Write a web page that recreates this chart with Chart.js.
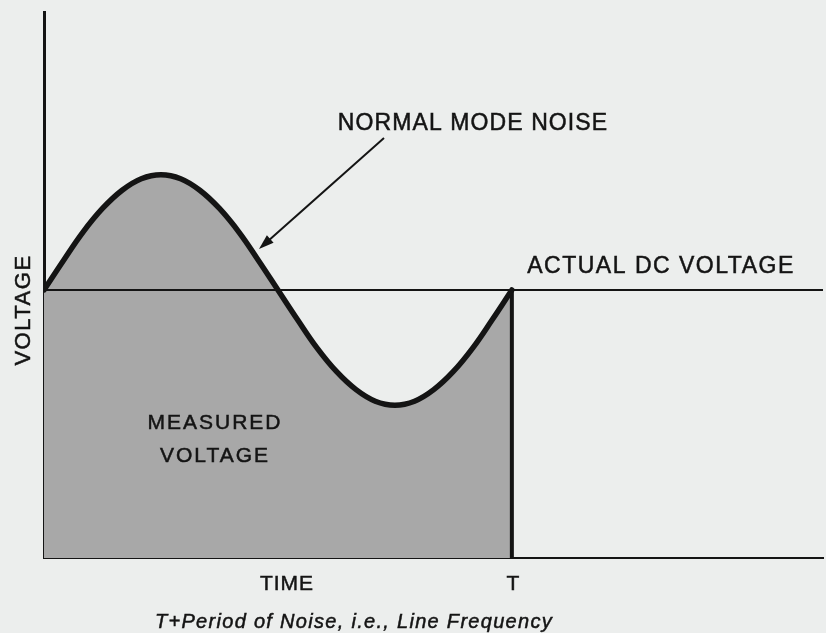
<!DOCTYPE html>
<html>
<head>
<meta charset="utf-8">
<script src="https://cdn.jsdelivr.net/npm/chart.js@4"></script>
<style>
  html, body { margin: 0; padding: 0; background: #eceeed; }
  #wrap { width: 826px; height: 633px; }
</style>
</head>
<body>
<div id="wrap"><canvas id="noiseChart" width="826" height="633"></canvas></div>
<script>
// One period of the noise, time in units of T, voltage in arbitrary units
const timePoints = [0, 0.042, 0.083, 0.125, 0.167, 0.208, 0.25, 0.292, 0.333, 0.375, 0.417, 0.458, 0.5,
  0.542, 0.583, 0.625, 0.667, 0.708, 0.75, 0.792, 0.833, 0.875, 0.917, 0.958, 1];
const noiseVoltage = [1.0, 1.111, 1.215, 1.304, 1.372, 1.415, 1.43, 1.415, 1.372, 1.304, 1.215, 1.111, 1.0,
  0.889, 0.785, 0.696, 0.628, 0.585, 0.57, 0.585, 0.628, 0.696, 0.785, 0.889, 1.0];
const dcLevel = [1.0, 1.0];
const dcTimes = [0, 1.665];
const periodMarkTimes = [1, 1];
const periodMarkVoltage = [0, 1.0];

const INK = '#141414';
const FILL = '#a8a8a8';
const FONT = '"Liberation Sans", Arial, Helvetica, sans-serif';

function toXY(xs, ys) {
  return xs.map((x, i) => ({ x, y: ys[i] }));
}

function drawText(ctx, text, x, y, size, opts = {}) {
  ctx.save();
  ctx.fillStyle = INK;
  ctx.strokeStyle = INK;
  ctx.lineWidth = 0.5;
  ctx.font = `${opts.italic ? 'italic ' : ''}${size}px ${FONT}`;
  if ('letterSpacing' in ctx) ctx.letterSpacing = (opts.spacing || 0) + 'px';
  ctx.textAlign = 'center';
  ctx.textBaseline = 'alphabetic';
  ctx.translate(x, y);
  if (opts.rotate) ctx.rotate(opts.rotate);
  ctx.fillText(text, 0, 0);
  ctx.strokeText(text, 0, 0);
  ctx.restore();
}

const annotations = {
  id: 'annotations',
  afterDraw(chart) {
    const ctx = chart.ctx;
    drawText(ctx, 'NORMAL MODE NOISE', 473, 130, 23, { spacing: 1.1 });
    drawText(ctx, 'ACTUAL DC VOLTAGE', 661, 273, 23, { spacing: 1.5 });
    drawText(ctx, 'MEASURED', 215, 429, 21, { spacing: 2 });
    drawText(ctx, 'VOLTAGE', 215, 462, 21, { spacing: 2 });
    drawText(ctx, 'TIME', 287, 590, 21, { spacing: 1 });
    drawText(ctx, 'T', 513, 590, 21);
    drawText(ctx, 'T+Period of Noise, i.e., Line Frequency', 354, 628, 20, { italic: true, spacing: 1.3 });
    drawText(ctx, 'VOLTAGE', 30, 310, 22, { spacing: 1.5, rotate: -Math.PI / 2 });

    // arrow pointing at the noise curve
    const x0 = 384, y0 = 138, x1 = 259, y1 = 249;
    const ang = Math.atan2(y1 - y0, x1 - x0);
    ctx.save();
    ctx.strokeStyle = INK;
    ctx.fillStyle = INK;
    ctx.lineWidth = 2;
    ctx.beginPath();
    ctx.moveTo(x0, y0);
    ctx.lineTo(x1 - 8 * Math.cos(ang), y1 - 8 * Math.sin(ang));
    ctx.stroke();
    ctx.beginPath();
    ctx.moveTo(x1, y1);
    ctx.lineTo(x1 - 15 * Math.cos(ang) + 5 * Math.sin(ang), y1 - 15 * Math.sin(ang) - 5 * Math.cos(ang));
    ctx.lineTo(x1 - 15 * Math.cos(ang) - 5 * Math.sin(ang), y1 - 15 * Math.sin(ang) + 5 * Math.cos(ang));
    ctx.closePath();
    ctx.fill();
    ctx.restore();
  }
};

const noAxisSize = (horizontal) => (scale) => {
  if (horizontal) scale.height = 0; else scale.width = 0;
};

new Chart(document.getElementById('noiseChart'), {
  type: 'line',
  data: {
    datasets: [
      {
        label: 'Actual DC voltage',
        data: toXY(dcTimes, dcLevel),
        borderColor: INK,
        borderWidth: 2,
        pointRadius: 0,
        fill: false,
      },
      {
        label: 'T',
        data: toXY(periodMarkTimes, periodMarkVoltage),
        borderColor: INK,
        borderWidth: 4,
        pointRadius: 0,
        fill: false,
      },
      {
        label: 'Normal mode noise',
        data: toXY(timePoints, noiseVoltage),
        borderColor: INK,
        borderWidth: 5.5,
        backgroundColor: FILL,
        pointRadius: 0,
        tension: 0.4,
        borderCapStyle: 'round',
        fill: 'origin',
      }
    ]
  },
  options: {
    responsive: false,
    animation: false,
    layout: { padding: { left: 44, top: 12, right: 3, bottom: 75 } },
    plugins: {
      legend: { display: false },
      tooltip: { enabled: false },
    },
    scales: {
      x: {
        type: 'linear',
        min: 0,
        max: 1.665,
        ticks: { display: false },
        grid: { display: false },
        border: { display: true, color: INK, width: 2 },
        afterFit: noAxisSize(true),
      },
      y: {
        min: 0,
        max: 2.037,
        ticks: { display: false },
        grid: { display: false },
        border: { display: true, color: INK, width: 3 },
        afterFit: noAxisSize(false),
      }
    }
  },
  plugins: [annotations]
});
</script>
</body>
</html>
